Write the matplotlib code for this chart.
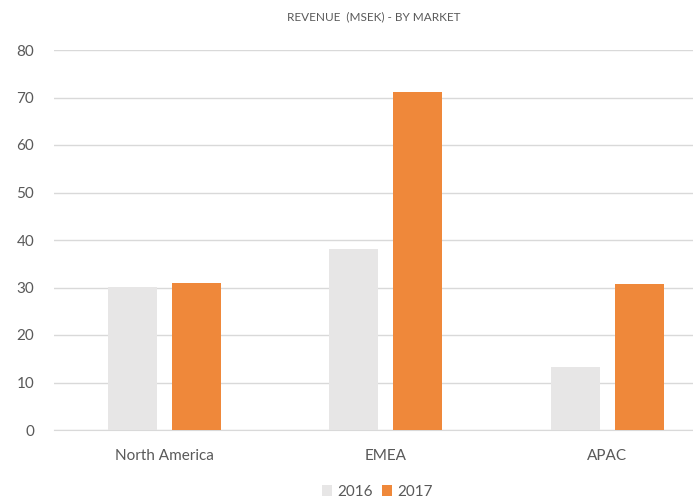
import numpy as np
import matplotlib
matplotlib.use("Agg")
import matplotlib.pyplot as plt

# data
markets = ["North America", "EMEA", "APAC"]
rev_2016 = [30.1, 38.2, 13.2]
rev_2017 = [30.9, 71.2, 30.8]
years = ["2016", "2017"]

c_2016 = "#E7E6E6"
c_2017 = "#EF883A"
txt = "#595959"

plt.rcParams['font.family'] = ['Lato', 'DejaVu Sans']

fig = plt.figure(figsize=(6.93, 5.03), dpi=100)
# axes runs past the right edge, as in the cropped original
ax = fig.add_axes([53.75/693, 73/503, 664/693, 380/503])

x = np.arange(len(markets))
w = 0.221
off = 0.1445
ax.bar(x - off, rev_2016, w, color=c_2016, label=years[0], zorder=3)
ax.bar(x + off, rev_2017, w, color=c_2017, label=years[1], zorder=3)

ax.set_xlim(-0.5, 2.5)
ax.set_ylim(0, 80)
ax.set_yticks(range(0, 81, 10))
ax.set_xticks(x)
ax.set_xticklabels(markets)
ax.grid(axis="y", color="#D9D9D9", lw=1, zorder=0)
for s in ["top", "right", "left"]:
    ax.spines[s].set_visible(False)
ax.spines["bottom"].set_color("#D9D9D9")
ax.tick_params(axis="both", length=0, colors=txt, labelsize=11)
ax.tick_params(axis="y", pad=14)
ax.tick_params(axis="x", pad=14)

fig.text(374/693, 1 - 17/503, "REVENUE  (MSEK) - BY MARKET", ha="center", va="center",
         fontsize=8.5, color=txt)

fig.legend(loc="center", bbox_to_anchor=(377/693, 1 - 492/503), ncol=2, frameon=False,
           fontsize=11, labelcolor=txt, handlelength=0.7, handleheight=0.7,
           handletextpad=0.3, columnspacing=0.6)

fig.savefig("out.png", dpi=100)
